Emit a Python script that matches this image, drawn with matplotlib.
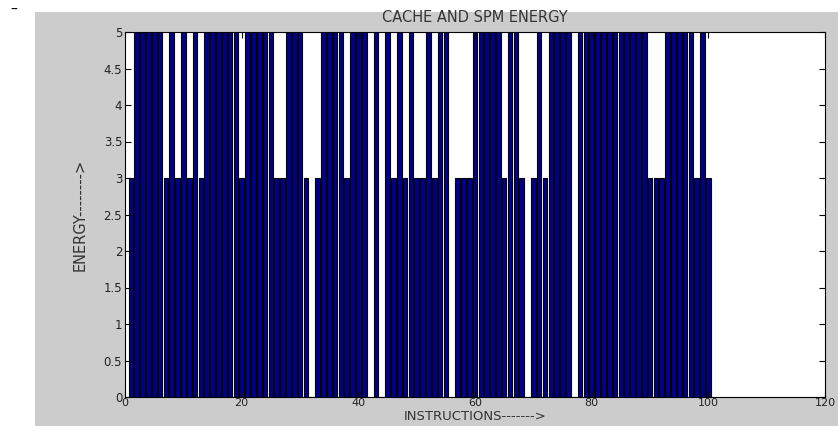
import matplotlib
matplotlib.use("Agg")
import matplotlib.pyplot as plt
from matplotlib.patches import Rectangle

# Data
instructions = list(range(1, 101))
energy = [
    3, 5, 5, 5, 5, 5, 3, 5, 3, 5,      # 1-10
    3, 5, 3, 5, 5, 5, 5, 5, 5, 3,      # 11-20
    5, 5, 5, 5, 5, 3, 3, 5, 5, 5,      # 21-30
    3, 0, 3, 5, 5, 5, 5, 3, 5, 5,      # 31-40
    5, 0, 5, 0, 5, 3, 5, 3, 5, 3,      # 41-50
    3, 5, 3, 5, 5, 0, 3, 3, 3, 5,      # 51-60
    5, 5, 5, 5, 3, 5, 5, 3, 0, 3,      # 61-70
    5, 3, 5, 5, 5, 5, 0, 5, 5, 5,      # 71-80
    5, 5, 5, 5, 5, 5, 5, 5, 5, 3,      # 81-90
    3, 3, 5, 5, 5, 5, 5, 3, 5, 3,      # 91-100
]
title = "CACHE AND SPM ENERGY"
xlabel = "INSTRUCTIONS------->"
ylabel = "ENERGY-------->"
xticks = [0, 20, 40, 60, 80, 100, 120]
yticks = [0, 0.5, 1, 1.5, 2, 2.5, 3, 3.5, 4, 4.5, 5]
ytick_labels = ["0", "0.5", "1", "1.5", "2", "2.5", "3", "3.5", "4", "4.5", "5"]

W, H = 838, 426
fig = plt.figure(figsize=(W / 100, H / 100), dpi=100, facecolor="white")
bg = Rectangle((35 / W, 0), 1 - 35 / W, 1 - 12 / H,
               transform=fig.transFigure, facecolor="#cccccc",
               edgecolor="none", zorder=-10)
fig.add_artist(bg)
fig.text(10 / W, 1 - 10 / H, "\u2013", fontsize=10, ha="left", va="center")

ax_left, ax_right, ax_top, ax_bottom = 125, 825, 32, 397
ax = fig.add_axes([ax_left / W, (H - ax_bottom) / H,
                   (ax_right - ax_left) / W, (ax_bottom - ax_top) / H])
ax.set_zorder(1)
ax.set_facecolor("white")
ax.bar(instructions, energy, width=0.8, color="#00008f", edgecolor="black",
       linewidth=0.8)
ax.set_xlim(0, 120)
ax.set_ylim(0, 5)
ax.set_xticks(xticks)
ax.set_yticks(yticks)
ax.set_yticklabels(ytick_labels)
ax.tick_params(direction="in", length=4, width=0.8, labelsize=8.5,
               top=True, right=True, colors="black", labelcolor="#222222")
ax.tick_params(axis="x", pad=1, labelsize=8)
ax.tick_params(axis="y", pad=2)
for s in ax.spines.values():
    s.set_linewidth(0.8)

txt_color = "#333333"
ax.set_title(title, fontsize=10.5, pad=7.5, color=txt_color)
ax.set_xlabel(xlabel, fontsize=9.5, color=txt_color, va="center")
ax.xaxis.set_label_coords(0.5, -(417 - ax_bottom) / (ax_bottom - ax_top))
ax.set_ylabel(ylabel, fontsize=10.5, color=txt_color, va="center")
ax.yaxis.set_label_coords(-(ax_left - 80) / (ax_right - ax_left), 0.5)

fig.savefig("out.png", dpi=100, facecolor=fig.get_facecolor())
